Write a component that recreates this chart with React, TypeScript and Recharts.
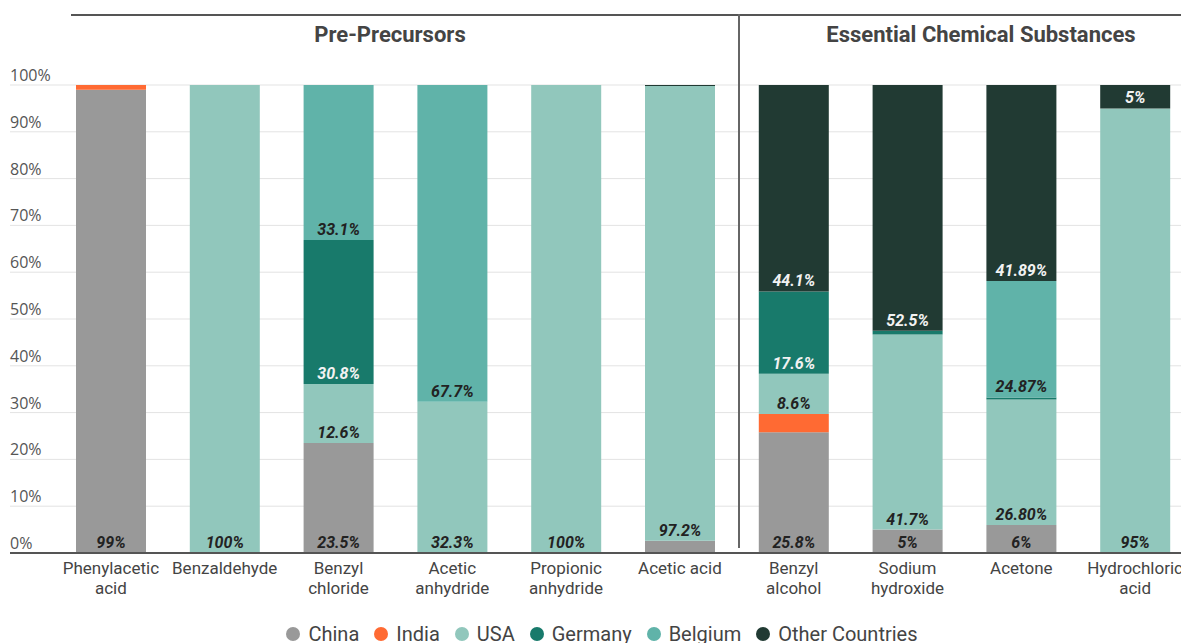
import React from 'react'
import { BarChart, Bar, XAxis, YAxis, CartesianGrid, LabelList } from 'recharts'

const categories = [
  'Phenylacetic acid',
  'Benzaldehyde',
  'Benzyl chloride',
  'Acetic anhydride',
  'Propionic anhydride',
  'Acetic acid',
  'Benzyl alcohol',
  'Sodium hydroxide',
  'Acetone',
  'Hydrochloric acid',
]

const tickLines = [
  ['Phenylacetic', 'acid'],
  ['Benzaldehyde'],
  ['Benzyl', 'chloride'],
  ['Acetic', 'anhydride'],
  ['Propionic', 'anhydride'],
  ['Acetic acid'],
  ['Benzyl', 'alcohol'],
  ['Sodium', 'hydroxide'],
  ['Acetone'],
  ['Hydrochloric', 'acid'],
]

const yTicks = [0, 10, 20, 30, 40, 50, 60, 70, 80, 90, 100]

// shares in percent, one value per category
const china = [99, 0, 23.5, 0, 0, 2.6, 25.8, 5, 6, 0]
const india = [1, 0, 0, 0, 0, 0, 3.9, 0, 0, 0]
const usa = [0, 100, 12.6, 32.3, 100, 97.2, 8.6, 41.7, 26.8, 95]
const germany = [0, 0, 30.8, 0, 0, 0, 17.6, 0.8, 0.44, 0]
const belgium = [0, 0, 33.1, 67.7, 0, 0, 0, 0, 24.87, 0]
const other = [0, 0, 0, 0, 0, 0.2, 44.1, 52.5, 41.89, 5]

// printed labels (null = no label on that segment)
const chinaLabels = ['99%', null, '23.5%', null, null, null, '25.8%', '5%', '6%', null]
const indiaLabels = [null, null, null, null, null, null, null, null, null, null]
const usaLabels = [null, '100%', '12.6%', '32.3%', '100%', '97.2%', '8.6%', '41.7%', '26.80%', '95%']
const germanyLabels = [null, null, '30.8%', null, null, null, '17.6%', null, null, null]
const belgiumLabels = [null, null, '33.1%', '67.7%', null, null, null, null, '24.87%', null]
const otherLabels = [null, null, null, null, null, null, '44.1%', '52.5%', '41.89%', '5%']

const groups = [
  { title: 'Pre-Precursors', center: 390 },
  { title: 'Essential Chemical Substances', center: 981 },
]

const series = [
  { key: 'china', name: 'China', color: '#999999', text: '#222222', values: china, labels: chinaLabels },
  { key: 'india', name: 'India', color: '#ff6a33', text: '#222222', values: india, labels: indiaLabels },
  { key: 'usa', name: 'USA', color: '#91c7bc', text: '#222222', values: usa, labels: usaLabels },
  { key: 'germany', name: 'Germany', color: '#187a6b', text: '#f2f2f2', values: germany, labels: germanyLabels },
  { key: 'belgium', name: 'Belgium', color: '#60b3a9', text: '#222222', values: belgium, labels: belgiumLabels },
  { key: 'other', name: 'Other Countries', color: '#213a33', text: '#f2f2f2', values: other, labels: otherLabels },
]

const data = categories.map((name, i) => {
  const row: Record<string, string | number | null> = { name }
  series.forEach((s) => {
    row[s.key] = s.values[i]
    row[s.key + 'Label'] = s.labels[i]
  })
  return row
})

const FONT = 'Roboto, "Noto Sans", sans-serif'

function XTick(props: any) {
  const { x, payload } = props
  const lines = tickLines[categories.indexOf(payload.value)] || [payload.value]
  return (
    <text x={x} y={574} textAnchor="middle" fill="#444" fontSize={17} fontFamily={FONT}>
      {lines.map((l, i) => (
        <tspan key={i} x={x} dy={i === 0 ? 0 : 20}>
          {l}
        </tspan>
      ))}
    </text>
  )
}

function YTick(props: any) {
  const { y, payload } = props
  return (
    <text x={10} y={y - 4} fill="#555" fontSize={16} fontFamily='"Open Sans", sans-serif'>
      {payload.value}%
    </text>
  )
}

function segmentLabel(color: string) {
  return (props: any) => {
    const { x, y, width, height, value } = props
    if (!value) return null
    return (
      <text
        x={x + width / 2}
        y={y + height - 5}
        textAnchor="middle"
        fill={color}
        fontSize={16}
        fontWeight={700}
        fontStyle="italic"
        fontFamily={FONT}
      >
        {value}
      </text>
    )
  }
}

export default function App() {
  return (
    <div style={{ position: 'absolute', left: 0, top: 0, width: 1181, height: 643, overflow: 'hidden', background: '#fff' }}>
      <BarChart
        width={1200}
        height={643}
        data={data}
        margin={{ top: 85, right: 8, left: 9, bottom: 60 }}
      >
        <CartesianGrid vertical={false} stroke="#e3e3e3" />
        <XAxis
          dataKey="name"
          height={30}
          interval={0}
          padding={{ left: 44, right: 0 }}
          axisLine={{ stroke: '#555', strokeWidth: 2 }}
          tickLine={false}
          tick={<XTick />}
        />
        <YAxis
          width={1}
          domain={[0, 100]}
          ticks={yTicks}
          allowDataOverflow
          axisLine={false}
          tickLine={false}
          tick={<YTick />}
        />
        {series.map((s) => (
          <Bar key={s.key} dataKey={s.key} name={s.name} stackId="a" fill={s.color} barSize={70} isAnimationActive={false}>
            <LabelList dataKey={s.key + 'Label'} content={segmentLabel(s.text)} />
          </Bar>
        ))}
      </BarChart>

      {/* group separators */}
      <div style={{ position: 'absolute', left: 71, top: 14, width: 1120, height: 2, background: '#555' }} />
      <div style={{ position: 'absolute', left: 738, top: 14, width: 2, height: 534, background: '#666' }} />
      {groups.map((g) => (
        <div
          key={g.title}
          style={{
            position: 'absolute',
            left: g.center - 250,
            width: 500,
            top: 22,
            textAlign: 'center',
            fontFamily: FONT,
            fontWeight: 700,
            fontSize: 22,
            color: '#444',
          }}
        >
          {g.title}
        </div>
      ))}

      {/* legend */}
      <div
        style={{
          position: 'absolute',
          left: 0,
          width: 1204,
          top: 621,
          display: 'flex',
          justifyContent: 'center',
          gap: 15,
          fontFamily: FONT,
          fontSize: 20,
          color: '#444',
          lineHeight: '26px',
        }}
      >
        {series.map((s) => (
          <div key={s.key} style={{ display: 'flex', alignItems: 'center' }}>
            <span
              style={{
                display: 'inline-block',
                width: 14,
                height: 14,
                borderRadius: 7,
                background: s.color,
                marginRight: 8,
              }}
            />
            {s.name}
          </div>
        ))}
      </div>
    </div>
  )
}
